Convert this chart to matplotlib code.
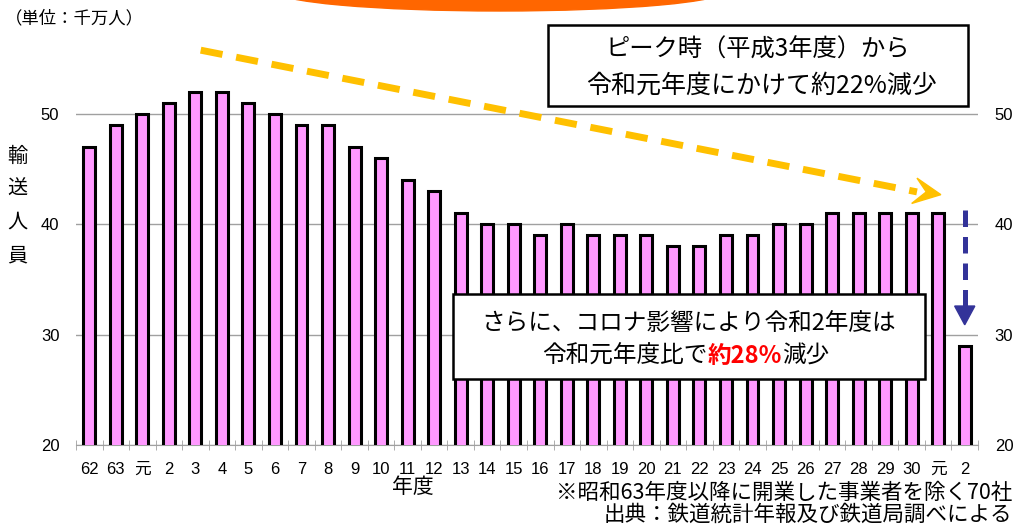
import matplotlib
matplotlib.use('Agg')
import matplotlib.pyplot as plt
import numpy as np
from matplotlib.patches import Rectangle, Ellipse, Polygon
from matplotlib.lines import Line2D
from matplotlib.offsetbox import TextArea, HPacker, AnnotationBbox

plt.rcParams['font.family'] = ['Liberation Sans', 'Noto Sans CJK JP', 'DejaVu Sans']
JP = ['Noto Sans CJK JP', 'DejaVu Sans']

# 年度ラベル（昭和62年度〜令和2年度）
years = ['62', '63', '元', '2', '3', '4', '5', '6', '7', '8', '9', '10', '11', '12',
         '13', '14', '15', '16', '17', '18', '19', '20', '21', '22', '23', '24', '25',
         '26', '27', '28', '29', '30', '元', '2']
# 輸送人員（千万人）
riders = [47, 49, 50, 51, 52, 52, 51, 50, 49, 49, 47, 46, 44, 43, 41, 40, 40, 39,
          40, 39, 39, 39, 38, 38, 39, 39, 40, 40, 41, 41, 41, 41, 41, 29]
yticks = [20, 30, 40, 50]

W, H = 1017, 527
fig = plt.figure(figsize=(W / 100, H / 100), dpi=100)


def fx(px):
    return px / W


def fy(py):
    return 1 - py / H


ax = fig.add_axes([fx(76), fy(445), (978 - 76) / W, (445 - 59) / H])
x = np.arange(len(years))
ax.bar(x, riders, width=0.45, color='#FF99FF', edgecolor='black', linewidth=2.2, zorder=3)
ax.set_xlim(-0.5, len(years) - 0.5)
ax.set_ylim(20, 55)
ax.set_yticks(yticks)
ax.yaxis.grid(True, color='#A0A0A0', linewidth=1)
ax.set_axisbelow(True)
ax.set_xticks(x)
ax.set_xticklabels(years, fontsize=12)
ax.set_xticks(np.arange(-0.5, len(years)), minor=True)
ax.tick_params(axis='x', which='major', length=0, pad=12)
ax.tick_params(axis='x', which='minor', direction='inout', length=7, color='#A0A0A0')
ax.tick_params(axis='y', length=0, labelsize=12, labelleft=True, labelright=True, pad=12)
for s in ['top', 'left', 'right']:
    ax.spines[s].set_visible(False)
ax.spines['bottom'].set_color('#A0A0A0')

# 上部のオレンジの飾り
fig.add_artist(Ellipse((fx(500), fy(-9)), 450 / W, 40 / H, transform=fig.transFigure,
                       color='#FF6600'))

# テキスト
fig.text(fx(5), fy(18), '（単位：千万人）', fontsize=12.5, va='center', ha='left', family=JP)
fig.text(fx(17), fy(206), '輸\n送\n人\n員', fontsize=14.5, va='center', ha='center',
         linespacing=1.75, family=JP)
fig.text(fx(413), fy(487), '年度', fontsize=15, va='center', ha='center', family=JP)
fig.text(fx(1012), fy(493), '※昭和63年度以降に開業した事業者を除く70社', fontsize=15.5,
         va='center', ha='right', family=JP)
fig.text(fx(1012), fy(515), '出典：鉄道統計年報及び鉄道局調べによる', fontsize=15.5,
         va='center', ha='right', family=JP)

# オレンジの破線矢印
ax.add_line(Line2D([4.2, 31.2], [55.8, 42.95], color='#FFC000', linewidth=5,
                   dashes=(3.2, 2.0), clip_on=False, zorder=5))
ax.add_patch(Polygon([[32.1, 42.7], [31.2, 44.2], [31.55, 42.95], [31.0, 41.9]],
                     closed=True, color='#FFC000', clip_on=False, zorder=5))

# 青の破線矢印
ax.add_line(Line2D([33, 33], [41.3, 32.6], color='#333399', linewidth=3.6,
                   dashes=(3.3, 2.0), clip_on=False, zorder=5))
ax.add_patch(Polygon([[32.62, 32.6], [33.38, 32.6], [33, 30.9]], closed=True,
                     color='#333399', clip_on=False, zorder=5))

# 枠付きの説明
fig.add_artist(Rectangle((fx(548), fy(106)), (968 - 548) / W, (106 - 25) / H,
                         transform=fig.transFigure, facecolor='white',
                         edgecolor='black', linewidth=1.8))
fig.text(fx(758), fy(50), 'ピーク時（平成3年度）から', fontsize=17.5, ha='center',
         va='center', family=JP)
fig.text(fx(762), fy(86), '令和元年度にかけて約22%減少', fontsize=18, ha='center',
         va='center', family=JP)

fig.add_artist(Rectangle((fx(453), fy(379)), (925 - 453) / W, (379 - 294) / H,
                         transform=fig.transFigure, facecolor='white',
                         edgecolor='black', linewidth=1.8, zorder=4))
fig.text(fx(689), fy(323), 'さらに、コロナ影響により令和2年度は', fontsize=17,
         ha='center', va='center', zorder=6, family=JP)
parts = HPacker(children=[
    TextArea('令和元年度比で', textprops=dict(fontsize=17, family=JP)),
    TextArea('約28%', textprops=dict(fontsize=17, color='#FF0000', fontweight='bold',
                                      family=JP)),
    TextArea('減少', textprops=dict(fontsize=17, family=JP)),
], pad=0, sep=0, align='baseline')
ab = AnnotationBbox(parts, (fx(686), fy(356)), xycoords='figure fraction', frameon=False,
                    box_alignment=(0.5, 0.5), pad=0, zorder=6)
fig.add_artist(ab)

fig.savefig('out.png', dpi=100)
